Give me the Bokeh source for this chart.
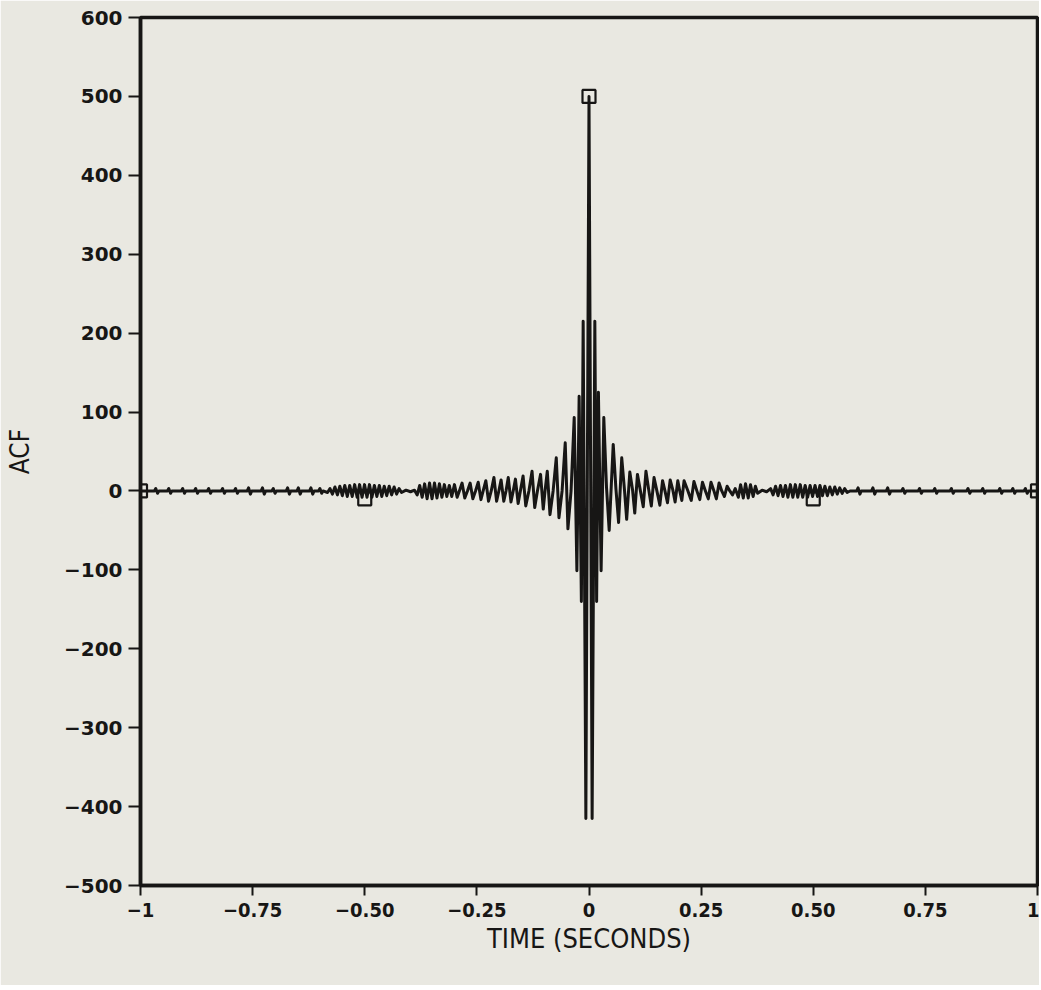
from bokeh.plotting import figure
from bokeh.models import FixedTicker, Range1d
from bokeh.embed import file_html
from bokeh.resources import INLINE

# ---- data (lag in seconds, ACF value) ----
t_neg = [-1.000,
         -0.969, -0.966, -0.962, -0.959, -0.940, -0.937, -0.933, -0.930,
         -0.909, -0.906, -0.902, -0.899, -0.880, -0.877, -0.873, -0.870,
         -0.851, -0.848, -0.844, -0.841, -0.820, -0.817, -0.813, -0.810,
         -0.791, -0.788, -0.784, -0.781, -0.762, -0.759, -0.755, -0.752,
         -0.731, -0.728, -0.724, -0.721, -0.707, -0.704, -0.700, -0.697,
         -0.675, -0.672, -0.668, -0.665, -0.651, -0.648, -0.644, -0.641,
         -0.623, -0.620, -0.616, -0.613, -0.603, -0.600, -0.596, -0.593,
         -0.583, -0.5775, -0.572, -0.5665, -0.561, -0.5555, -0.550, -0.5445,
         -0.539, -0.5335, -0.528, -0.5225, -0.517, -0.5115, -0.506, -0.5005,
         -0.495, -0.4895, -0.484, -0.4785, -0.473, -0.4675, -0.462, -0.4565,
         -0.451, -0.4455, -0.440, -0.4345, -0.429, -0.4235, -0.418,
         -0.408, -0.398, -0.389,
         -0.383, -0.3775, -0.372, -0.3665, -0.361, -0.3555, -0.350, -0.3445,
         -0.339, -0.3335, -0.328, -0.3225, -0.317, -0.3115, -0.306,
         -0.300, -0.294, -0.289,
         -0.283, -0.277, -0.271,
         -0.265, -0.259, -0.253,
         -0.247, -0.241, -0.236,
         -0.230, -0.224, -0.218,
         -0.212, -0.206, -0.201,
         -0.196, -0.190, -0.185,
         -0.180, -0.174, -0.169,
         -0.164, -0.158, -0.153,
         -0.147, -0.141, -0.134,
         -0.127, -0.121, -0.115,
         -0.108, -0.102, -0.098,
         -0.093, -0.087, -0.080,
         -0.073, -0.067, -0.060,
         -0.053, -0.047, -0.040,
         -0.033, -0.027, -0.022, -0.017, -0.013, -0.007]
v_neg = [0,
         0, 3, -3, 0, 0, 3, -3, 0,
         0, 3, -3, 0, 0, 3, -3, 0,
         0, 3, -3, 0, 0, 3, -3, 0,
         0, 3, -3, 0, 0, 4, -4, 0,
         0, 4, -4, 0, 0, 3, -3, 0,
         0, 4, -4, 0, 0, 4, -4, 0,
         0, 4, -4, 0, 0, 3, -3, 0,
         -2, 3, -4, 5, -5, 6, -6, 7,
         -7, 7, -7, 8, -8, 8, -8, 8,
         -8, 8, -8, 7, -7, 7, -7, 6,
         -6, 6, -5, 5, -4, 3, -2,
         1, -1, 1,
         -5, 7, -8, 9, -10, 10, -10, 10,
         -9, 9, -8, 8, -7, 7, -7,
         8, -8, 0,
         10, -9, 0,
         10, -10, 0,
         11, -11, 0,
         13, -13, 0,
         17, -13, 0,
         14, -13, 0,
         17, -14, 0,
         15, -16, 0,
         19, -19, 0,
         25, -21, 0,
         21, -23, 0,
         25, -30, 0,
         42, -34, 0,
         61, -48, 0,
         93, -101, 120, -140, 215, -415]

t_pos = [0.000, 0.007, 0.013, 0.017, 0.021, 0.027, 0.033,
         0.039, 0.045, 0.054,
         0.060, 0.066, 0.073,
         0.079, 0.084, 0.091,
         0.097, 0.102, 0.108,
         0.114, 0.121, 0.127,
         0.133, 0.139, 0.145,
         0.151, 0.158, 0.164,
         0.169, 0.175, 0.181,
         0.187, 0.192, 0.198,
         0.202, 0.207, 0.212,
         0.220, 0.228, 0.234,
         0.240, 0.247, 0.253,
         0.259, 0.266, 0.272,
         0.278, 0.284, 0.290,
         0.296, 0.302, 0.308,
         0.314, 0.320, 0.326,
         0.333, 0.338, 0.344, 0.349, 0.355, 0.360, 0.366, 0.371, 0.376,
         0.386, 0.396,
         0.405, 0.4105, 0.416, 0.4215, 0.427, 0.4325, 0.438, 0.4435,
         0.449, 0.4545, 0.460, 0.4655, 0.471, 0.4765, 0.482, 0.4875,
         0.493, 0.4985, 0.504, 0.5095, 0.515, 0.5205, 0.526, 0.5315,
         0.537, 0.5425, 0.548, 0.5535, 0.559, 0.5645, 0.570, 0.5755, 0.582,
         0.597, 0.600, 0.604, 0.607, 0.630, 0.633, 0.637, 0.640,
         0.663, 0.666, 0.670, 0.673, 0.697, 0.700, 0.704, 0.707,
         0.734, 0.737, 0.741, 0.744, 0.768, 0.771, 0.775, 0.778,
         0.805, 0.808, 0.812, 0.815, 0.842, 0.845, 0.849, 0.852,
         0.875, 0.878, 0.882, 0.885, 0.913, 0.916, 0.920, 0.923,
         0.942, 0.945, 0.949, 0.952, 0.970, 0.973, 0.977, 0.980,
         1.000]
v_pos = [500, -415, 215, -140, 125, -101, 93,
         5, -50, 59,
         3, -40, 42,
         2, -36, 24,
         2, -28, 21,
         2, -20, 25,
         2, -19, 17,
         1, -18, 13,
         1, -15, 14,
         1, -14, 13,
         1, -12, 13,
         1, -12, 12,
         1, -11, 11,
         1, -10, 11,
         1, -10, 10,
         0, -7, 6,
         0, -5, 3,
         -8, 8, -9, 9, -9, 8, -7, 6, -3,
         1, -1,
         3, -5, 6, -6, 7, -7, 7, -8,
         8, -8, 8, -8, 8, -8, 7, -8,
         7, -7, 7, -7, 7, -6, 6, -6,
         5, -5, 5, -4, 4, -3, 3, -2, 0,
         0, 4, -4, 0, 0, 4, -4, 0,
         0, 4, -4, 0, 0, 3, -3, 0,
         0, 3, -3, 0, 0, 3, -3, 0,
         0, 3, -3, 0, 0, 3, -3, 0,
         0, 3, -3, 0, 0, 3, -3, 0,
         0, 3, -3, 0, 0, 3, -3, 0,
         0]

mark_t = [-1.0, -0.5, 0.0, 0.5, 1.0]
mark_v = [0, -10, 500, -10, 0]

x_ticks = [-1, -0.75, -0.5, -0.25, 0, 0.25, 0.5, 0.75, 1]
x_tick_labels = ["\u22121", "\u22120.75", "\u22120.50", "\u22120.25", "0",
                 "0.25", "0.50", "0.75", "1"]
y_ticks = [-500, -400, -300, -200, -100, 0, 100, 200, 300, 400, 500, 600]
y_tick_labels = ["\u2212500", "\u2212400", "\u2212300", "\u2212200", "\u2212100",
                 "0", "100", "200", "300", "400", "500", "600"]

BG = "#e9e8e1"
INK = "#171615"

p = figure(width=1039, height=985, output_backend="svg", toolbar_location=None,
           x_range=Range1d(-1, 1), y_range=Range1d(-500, 600),
           min_border_left=140, min_border_right=2, min_border_top=17,
           min_border_bottom=100)
p.background_fill_color = BG
p.border_fill_color = BG
p.outline_line_color = INK
p.outline_line_width = 3.5
p.grid.visible = False

t_all = t_neg + t_pos
v_all = v_neg + v_pos
p.line(t_all, v_all, line_color=INK, line_width=3, line_join="round")
p.scatter(mark_t, mark_v, marker="square", size=13, fill_alpha=0,
          line_color=INK, line_width=2.2)

xa = p.xaxis[0]
xa.ticker = FixedTicker(ticks=x_ticks)
xa.major_label_overrides = {t: s for t, s in zip(x_ticks, x_tick_labels)}
xa.axis_label = "TIME (SECONDS)"
ya = p.yaxis[0]
ya.ticker = FixedTicker(ticks=y_ticks)
ya.major_label_overrides = {t: s for t, s in zip(y_ticks, y_tick_labels)}
ya.axis_label = "ACF"

for ax in (xa, ya):
    ax.axis_line_color = INK
    ax.axis_line_width = 3.5
    ax.major_tick_line_color = INK
    ax.major_tick_line_width = 2
    ax.major_tick_in = 0
    ax.minor_tick_line_color = None
    ax.major_label_text_color = INK
    ax.axis_label_text_color = INK
    ax.axis_label_text_font_style = "normal"

xa.major_tick_out = 10
xa.major_label_standoff = 7
xa.major_label_text_font = "DejaVu Sans Condensed"
xa.major_label_text_font_style = "bold"
xa.major_label_text_font_size = "20px"
xa.axis_label_text_font = "DejaVu Sans Condensed"
xa.axis_label_text_font_size = "27px"
xa.axis_label_standoff = 3

ya.major_tick_out = 12
ya.major_label_standoff = 6
ya.major_label_text_font = "DejaVu Sans"
ya.major_label_text_font_style = "bold"
ya.major_label_text_font_size = "20px"
ya.axis_label_text_font = "DejaVu Sans Condensed"
ya.axis_label_text_font_size = "26px"
ya.axis_label_standoff = 26

open("out.html", "w").write(file_html(p, INLINE))
